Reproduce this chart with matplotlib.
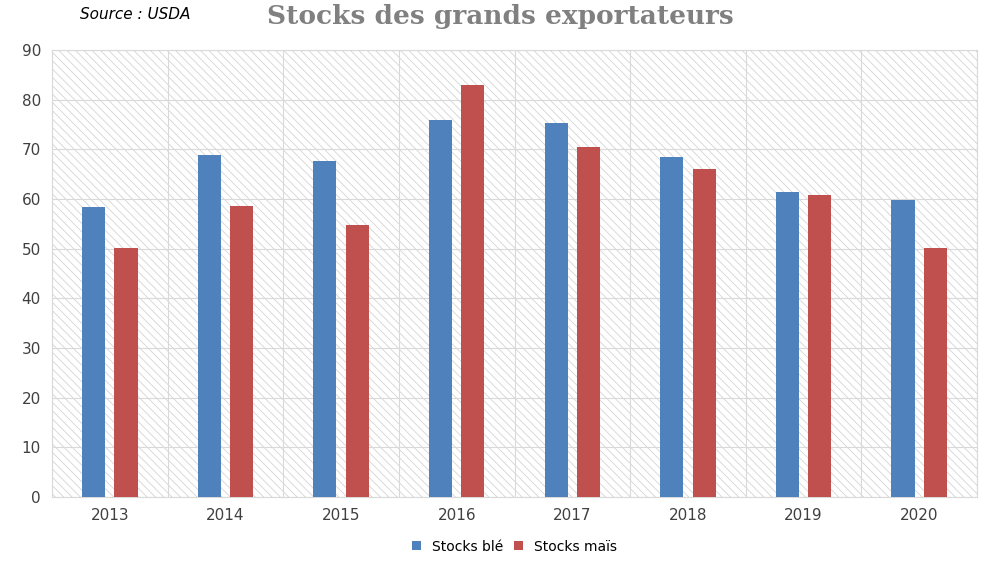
import matplotlib.pyplot as plt
import numpy as np
from matplotlib.patches import Rectangle

years = ["2013", "2014", "2015", "2016", "2017", "2018", "2019", "2020"]
ble = [58.3, 68.8, 67.6, 75.9, 75.3, 68.5, 61.4, 59.8]
mais = [50.2, 58.5, 54.7, 83.0, 70.4, 66.0, 60.8, 50.2]

plt.rcParams['hatch.linewidth'] = 0.6

fig = plt.figure(figsize=(10, 5.61), dpi=100)
ax = fig.add_axes([0.052, 0.114, 0.925, 0.797])

x = np.arange(len(years))
ax.add_patch(Rectangle((-0.5, 0), len(years), 90, facecolor='white',
                       edgecolor='#d4d4d4', linewidth=0, hatch='\\\\\\\\', zorder=0.5))
ax.bar(x - 0.14, ble, width=0.2, color='#4f81bd', label='Stocks blé', zorder=3)
ax.bar(x + 0.14, mais, width=0.2, color='#c0504d', label='Stocks maïs', zorder=3)

ax.set_xlim(-0.5, len(years) - 0.5)
ax.set_ylim(0, 90)
ax.set_yticks(range(0, 91, 10))
ax.set_xticks(x)
ax.set_xticklabels(years)
for xb in np.arange(-0.5, len(years), 1):
    ax.axvline(xb, color='#d9d9d9', linewidth=0.8, zorder=1)
ax.yaxis.grid(True, color='#d9d9d9', linewidth=0.8, zorder=1)
for s in ax.spines.values():
    s.set_color('#d9d9d9')
ax.tick_params(length=0, labelsize=11, colors='#404040', pad=8)

fig.text(0.08, 0.975, "Source : USDA", fontsize=11, style='italic', va='center')
fig.text(0.5, 0.97, "Stocks des grands exportateurs", fontsize=19, fontweight='bold',
         family='DejaVu Serif', color='#808080', ha='center', va='center')
ax.legend(loc='lower center', bbox_to_anchor=(0.5, -0.145), ncol=2, frameon=False,
          fontsize=10, handlelength=0.6, handleheight=0.6, columnspacing=0.8,
          borderpad=0.1)

fig.savefig("out.png", dpi=100)
